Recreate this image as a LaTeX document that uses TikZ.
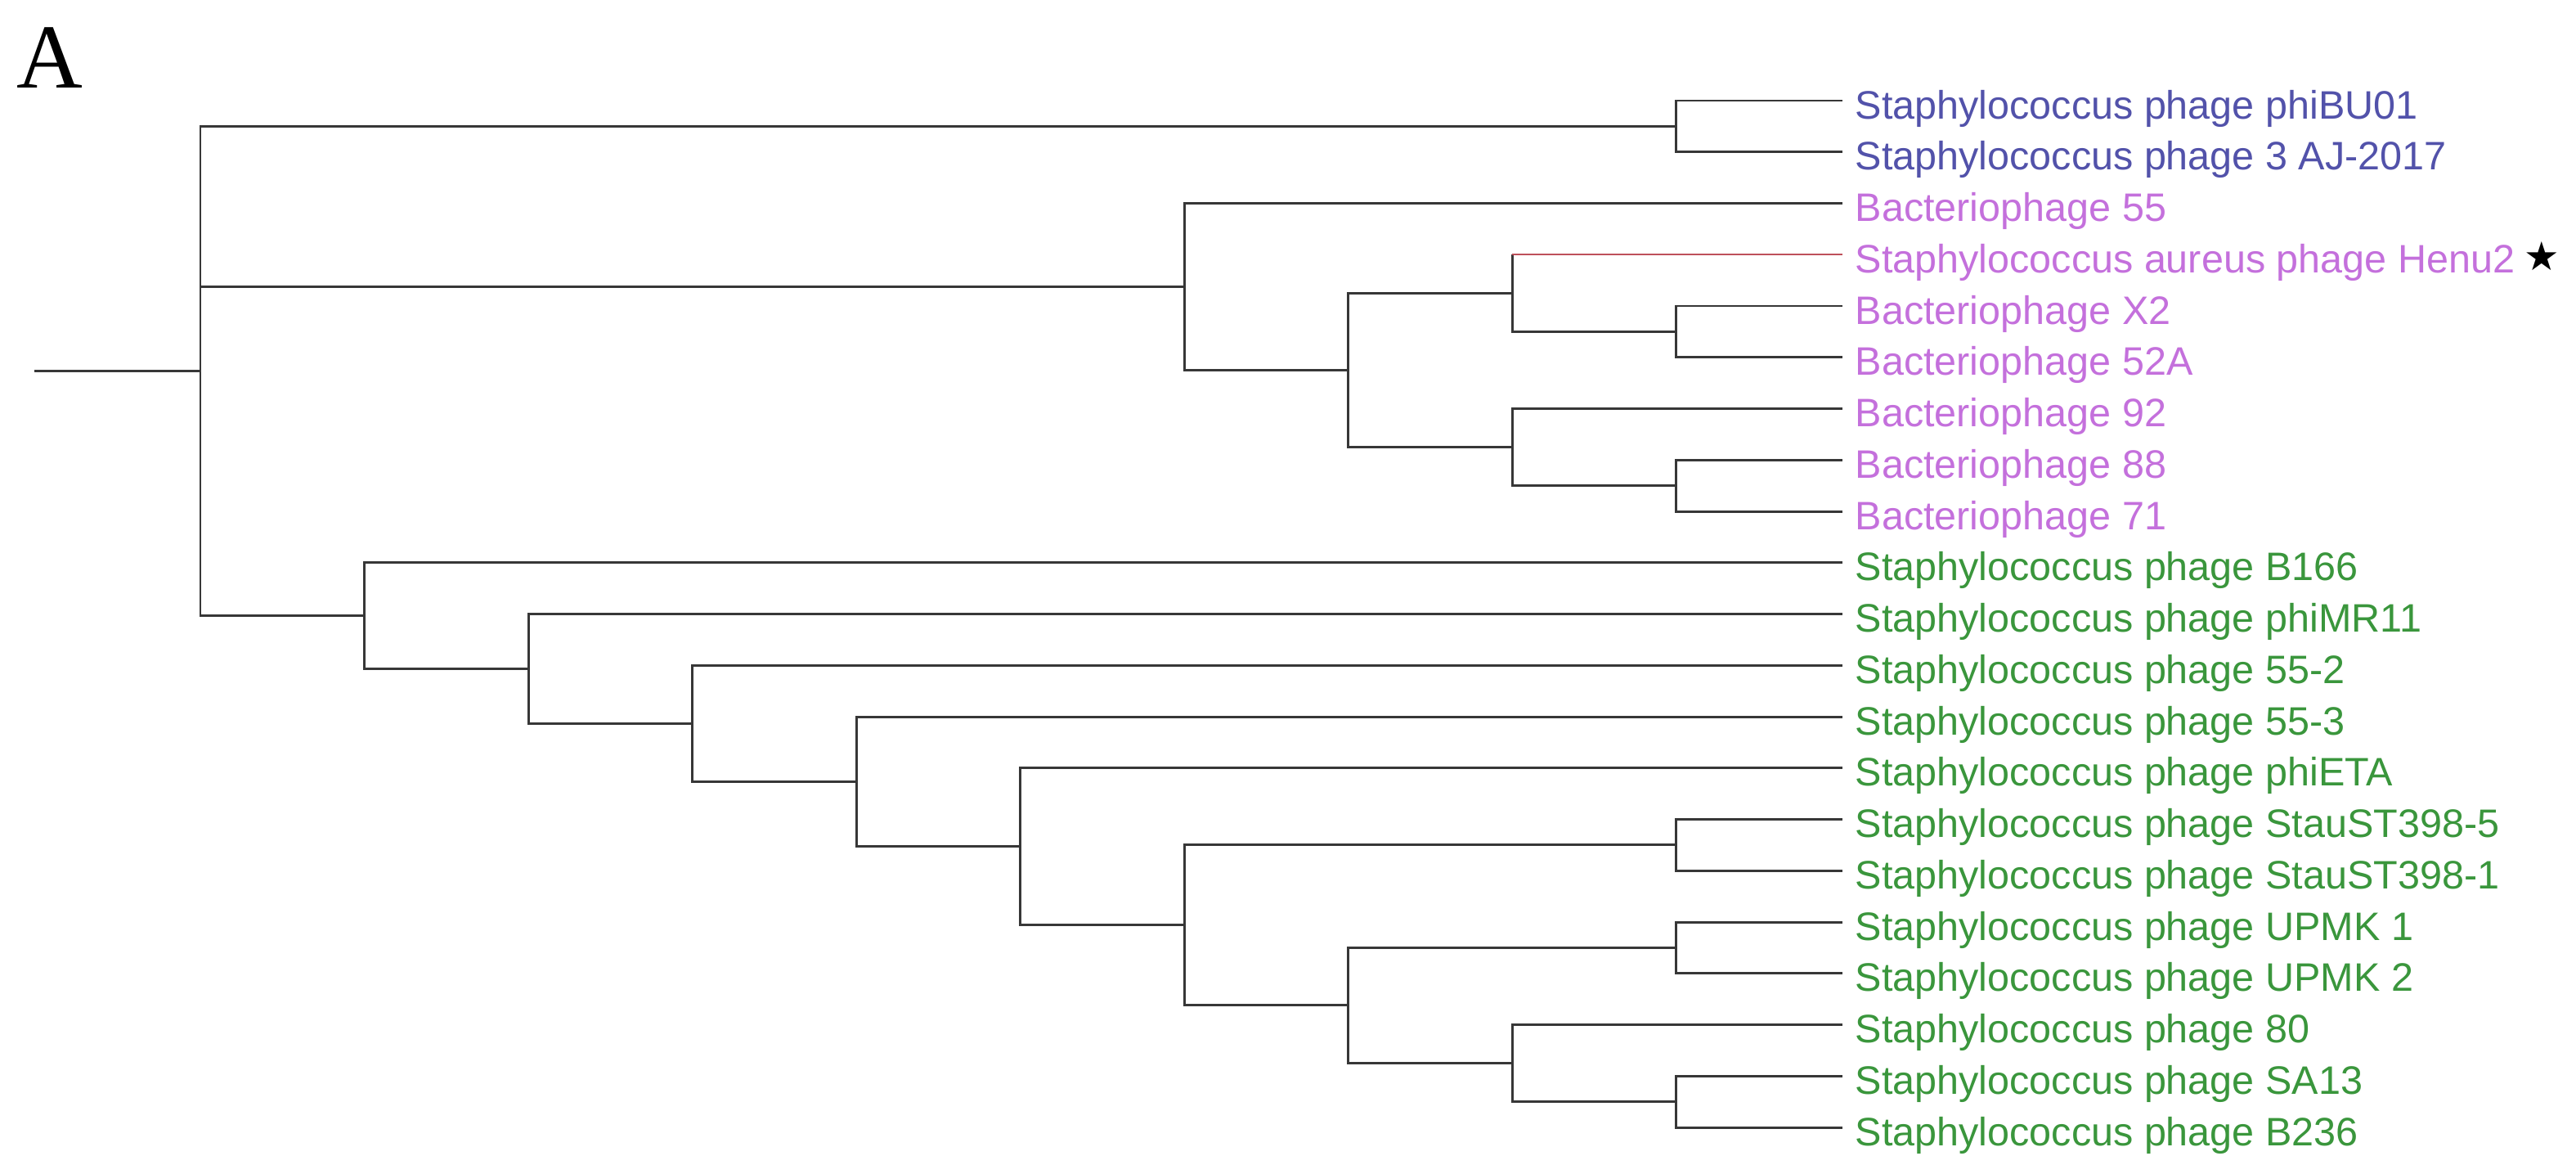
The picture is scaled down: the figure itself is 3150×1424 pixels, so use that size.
\documentclass[tikz,border=0pt]{standalone}
\usepackage{fontspec}
\setmainfont{Liberation Sans}
\newfontfamily\labfont{Liberation Sans}
\newfontfamily\seriffont{Liberation Serif}
\newfontfamily\symfont{DejaVu Sans}
\definecolor{cblue}{RGB}{82,82,170}
\definecolor{cpurple}{RGB}{196,112,220}
\definecolor{cgreen}{RGB}{58,150,60}
\definecolor{cline}{RGB}{55,55,55}
\definecolor{cred}{RGB}{190,80,90}
\begin{document}
\begin{tikzpicture}[x=0.01cm,y=-0.01cm,
  branch/.style={draw=cline,line width=0.85pt},
  redbranch/.style={draw=cred,line width=0.6pt},
  leaflab/.style={anchor=base west,inner sep=0pt,font=\labfont\fontsize{13.8}{16}\selectfont},
  bluelab/.style={leaflab,text=cblue},
  purplelab/.style={leaflab,text=cpurple},
  greenlab/.style={leaflab,text=cgreen}]
\useasboundingbox (0,0) rectangle (3150,1424);
\node[anchor=base west,inner sep=0pt,font=\seriffont\fontsize{31.8}{36}\selectfont] (panel) at (20,107) {A};
% leaf tips
\def\tipx{2253}
\def\labx{2268}
\foreach \i/\y in {0/123,1/185.75,2/248.5,3/311.25,4/374,5/436.75,6/499.5,7/562.25,8/625,9/687.75,10/750.5,11/813.25,12/876,13/938.75,14/1001.5,15/1064.25,16/1127,17/1189.75,18/1252.5,19/1315.25,20/1378}
  {\coordinate (l\i) at (\tipx,\y);}
% labels
\node[bluelab] (t0) at (\labx,145) {Staphylococcus phage phiBU01};
\node[bluelab] (t1) at (\labx,207.75) {Staphylococcus phage 3 AJ-2017};
\node[purplelab] (t2) at (\labx,270.5) {Bacteriophage 55};
\node[purplelab] (t3) at (\labx,333.25) {Staphylococcus aureus phage Henu2};
\node[purplelab] (t4) at (\labx,396) {Bacteriophage X2};
\node[purplelab] (t5) at (\labx,458.75) {Bacteriophage 52A};
\node[purplelab] (t6) at (\labx,521.5) {Bacteriophage 92};
\node[purplelab] (t7) at (\labx,584.25) {Bacteriophage 88};
\node[purplelab] (t8) at (\labx,647) {Bacteriophage 71};
\node[greenlab] (t9) at (\labx,709.75) {Staphylococcus phage B166};
\node[greenlab] (t10) at (\labx,772.5) {Staphylococcus phage phiMR11};
\node[greenlab] (t11) at (\labx,835.25) {Staphylococcus phage 55-2};
\node[greenlab] (t12) at (\labx,898) {Staphylococcus phage 55-3};
\node[greenlab] (t13) at (\labx,960.75) {Staphylococcus phage phiETA};
\node[greenlab] (t14) at (\labx,1023.5) {Staphylococcus phage StauST398-5};
\node[greenlab] (t15) at (\labx,1086.25) {Staphylococcus phage StauST398-1};
\node[greenlab] (t16) at (\labx,1149) {Staphylococcus phage UPMK 1};
\node[greenlab] (t17) at (\labx,1211.75) {Staphylococcus phage UPMK 2};
\node[greenlab] (t18) at (\labx,1274.5) {Staphylococcus phage 80};
\node[greenlab] (t19) at (\labx,1337.25) {Staphylococcus phage SA13};
\node[greenlab] (t20) at (\labx,1400) {Staphylococcus phage B236};
\node[anchor=base west,inner sep=0pt,font=\symfont\fontsize{13.8}{16}\selectfont] (star) at (3086,330) {★};
% internal nodes
\coordinate (stem) at (42,453.48);
\coordinate (R0) at (245,453.48);
\coordinate (T) at (2049.5,154.375);
\coordinate (P6) at (1448,350.47);
\coordinate (P7) at (1648.5,452.44);
\coordinate (P8a) at (1849,358.31);
\coordinate (P9a) at (2049.5,405.375);
\coordinate (P8b) at (1849,546.56);
\coordinate (P9b) at (2049.5,593.625);
\coordinate (G1) at (445.5,752.58);
\coordinate (G2) at (646,817.42);
\coordinate (G3) at (846.5,884.33);
\coordinate (G4) at (1047,955.42);
\coordinate (G5) at (1247.5,1034.84);
\coordinate (G6) at (1448,1130.92);
\coordinate (G9a) at (2049.5,1032.875);
\coordinate (G7) at (1648.5,1228.97);
\coordinate (G9b) at (2049.5,1158.375);
\coordinate (G8) at (1849,1299.56);
\coordinate (G9c) at (2049.5,1346.625);
% branches
\draw[branch] (stem) -- (R0);
\draw[branch] (R0) |- (T);
\draw[branch] (R0) |- (P6);
\draw[branch] (R0) |- (G1);
\draw[branch] (T) |- (l0);
\draw[branch] (T) |- (l1);
\draw[branch] (P6) |- (l2);
\draw[branch] (P6) |- (P7);
\draw[branch] (P7) |- (P8a);
\draw[branch] (P7) |- (P8b);
\draw[branch] (P8a) -- (P8a |- l3);
\draw[redbranch] (P8a |- l3) -- (l3);
\draw[branch] (P8a) |- (P9a);
\draw[branch] (P9a) |- (l4);
\draw[branch] (P9a) |- (l5);
\draw[branch] (P8b) |- (l6);
\draw[branch] (P8b) |- (P9b);
\draw[branch] (P9b) |- (l7);
\draw[branch] (P9b) |- (l8);
\draw[branch] (G1) |- (l9);
\draw[branch] (G1) |- (G2);
\draw[branch] (G2) |- (l10);
\draw[branch] (G2) |- (G3);
\draw[branch] (G3) |- (l11);
\draw[branch] (G3) |- (G4);
\draw[branch] (G4) |- (l12);
\draw[branch] (G4) |- (G5);
\draw[branch] (G5) |- (l13);
\draw[branch] (G5) |- (G6);
\draw[branch] (G6) |- (G9a);
\draw[branch] (G6) |- (G7);
\draw[branch] (G9a) |- (l14);
\draw[branch] (G9a) |- (l15);
\draw[branch] (G7) |- (G9b);
\draw[branch] (G7) |- (G8);
\draw[branch] (G9b) |- (l16);
\draw[branch] (G9b) |- (l17);
\draw[branch] (G8) |- (l18);
\draw[branch] (G8) |- (G9c);
\draw[branch] (G9c) |- (l19);
\draw[branch] (G9c) |- (l20);
\end{tikzpicture}
\end{document}
